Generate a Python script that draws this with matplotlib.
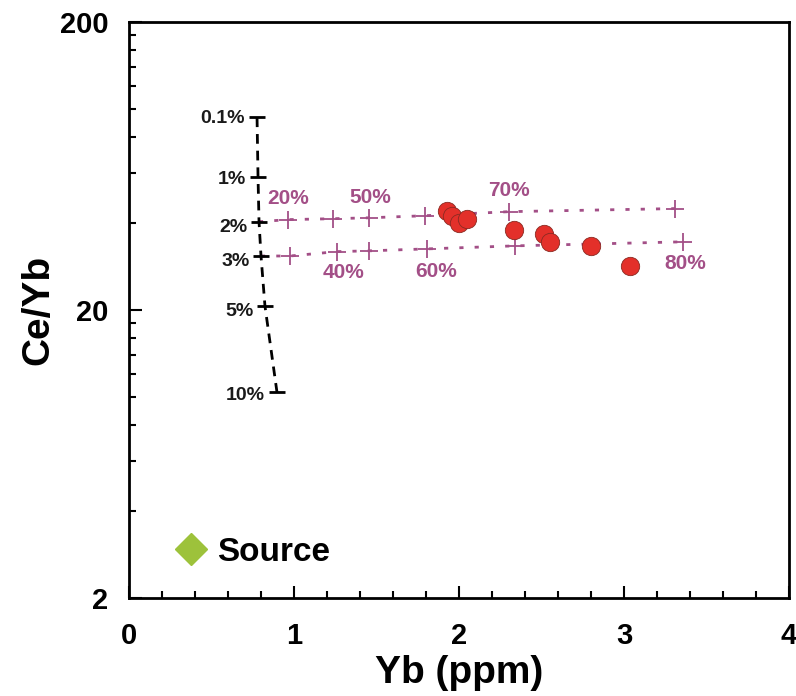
import numpy as np
import matplotlib
matplotlib.use("Agg")
import matplotlib.pyplot as plt
from matplotlib.lines import Line2D
from matplotlib.ticker import FixedLocator, NullFormatter

plt.rcParams['font.family'] = ['Liberation Sans', 'DejaVu Sans']
plt.rcParams['font.weight'] = 'bold'

# samples (red dots)
yb_samples = [1.927, 1.958, 2.000, 2.048, 2.333, 2.515, 2.552, 2.800, 3.036]
ceyb_samples = [44.3, 42.5, 40.2, 41.5, 38.0, 36.8, 34.5, 33.4, 28.5]

# melting curve (black dashed)
melt_yb = [0.776, 0.782, 0.788, 0.800, 0.824, 0.897]
melt_ceyb = [93.3, 57.7, 40.5, 30.8, 20.65, 10.35]
melt_labels = ["0.1%", "1%", "2%", "3%", "5%", "10%"]
melt_label_x = [0.703, 0.709, 0.721, 0.733, 0.758, 0.824]
melt_label_y = [92.6, 56.7, 38.6, 29.4, 19.8, 10.1]

# mixing lines (pink dotted)
upper_yb = [0.964, 1.236, 1.455, 1.794, 2.303, 3.309]
upper_ceyb = [41.2, 41.5, 41.8, 42.5, 43.9, 45.0]
lower_yb = [0.976, 1.261, 1.455, 1.806, 2.339, 3.358]
lower_ceyb = [30.8, 31.9, 32.1, 32.6, 33.4, 34.5]
mix_labels = ["20%", "50%", "70%", "40%", "60%", "80%"]
mix_label_x = [0.964, 1.461, 2.303, 1.297, 1.861, 3.370]
mix_label_y = [48.7, 49.1, 52.0, 27.1, 27.3, 28.9]

pink = '#a34f87'
red = '#e3302a'
green = '#9dc23b'

fig = plt.figure(figsize=(7.96, 6.96), dpi=100)
ax = fig.add_axes([129 / 796, 98 / 696, 660 / 796, 576 / 696])

# pink lines start at the 2% and 3% points of the melting curve
ax.plot([melt_yb[2]] + upper_yb, [melt_ceyb[2]] + upper_ceyb, color=pink,
        lw=2, linestyle=(0, (1.5, 4)), zorder=2)
ax.plot([melt_yb[3]] + lower_yb, [melt_ceyb[3]] + lower_ceyb, color=pink,
        lw=2, linestyle=(0, (1.5, 4)), zorder=2)
ax.plot(upper_yb, upper_ceyb, ls='none', marker='+', ms=13, mew=1.3, color=pink, zorder=3)
ax.plot(lower_yb, lower_ceyb, ls='none', marker='+', ms=13, mew=1.3, color=pink, zorder=3)
for t, x, y in zip(mix_labels, mix_label_x, mix_label_y):
    ax.text(x, y, t, color=pink, fontsize=15, fontweight='bold', ha='center', va='center')

ax.plot(melt_yb, melt_ceyb, color='black', lw=2, linestyle=(0, (3.5, 2.5)), zorder=3)
ax.plot(melt_yb, melt_ceyb, ls='none', marker='_', ms=12, mew=2, color='black', zorder=3)
for t, x, y in zip(melt_labels, melt_label_x, melt_label_y):
    ax.text(x, y, t, color='#1a1a1a', fontsize=14, fontweight='bold', ha='right', va='center')

ax.scatter(yb_samples, ceyb_samples, s=175, color=red, edgecolor='#8a2a22',
           linewidth=0.6, zorder=5)

ax.set_yscale('log')
ax.set_xlim(0, 4)
ax.set_ylim(2, 200)
ax.yaxis.set_major_locator(FixedLocator([2, 20, 200]))
ax.set_yticklabels(['2', '20', '200'])
ax.yaxis.set_minor_locator(FixedLocator(list(range(4, 20, 2)) + list(range(40, 200, 20))))
ax.yaxis.set_minor_formatter(NullFormatter())
ax.set_xticks([0, 1, 2, 3, 4])
ax.xaxis.set_minor_locator(FixedLocator(np.arange(0.2, 4, 0.2)))

ax.tick_params(which='both', direction='in', width=1.5, labelsize=21)
ax.tick_params(which='major', length=9)
ax.tick_params(which='minor', length=5)
ax.tick_params(axis='y', pad=15)
ax.tick_params(axis='x', pad=17)
for lab in ax.get_xticklabels() + ax.get_yticklabels():
    lab.set_fontweight('bold')
for sp in ax.spines.values():
    sp.set_linewidth(2)

ax.set_xlabel('Yb (ppm)', fontsize=28, fontweight='bold', labelpad=4)
ax.set_ylabel('Ce/Yb', fontsize=28, fontweight='bold', labelpad=2)

src = Line2D([], [], ls='none', marker='D', ms=16, color=green, mec=green, label='Source')
ax.legend(handles=[src], loc='lower left', bbox_to_anchor=(0.02, 0.0), frameon=False,
          prop={'size': 24, 'weight': 'bold'}, handletextpad=0.25, handlelength=1.1)

fig.savefig('out.png', dpi=100)
